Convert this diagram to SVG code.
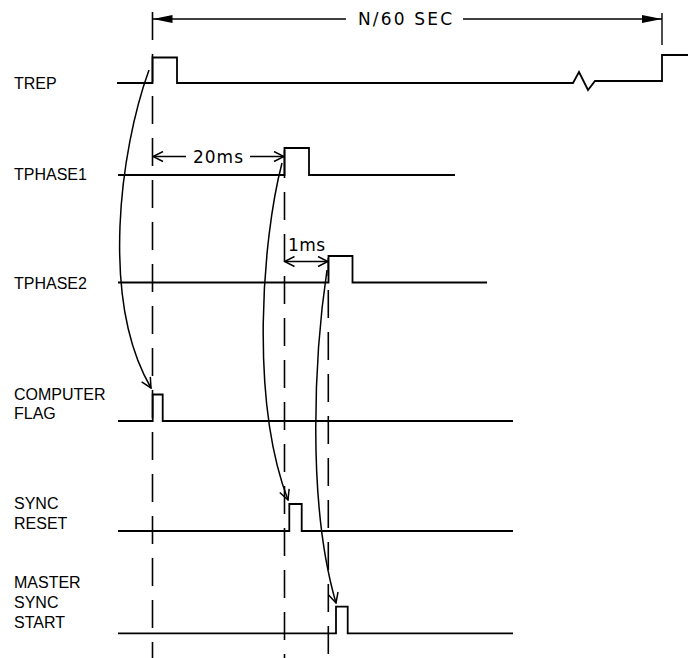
<svg xmlns="http://www.w3.org/2000/svg" width="688" height="658" viewBox="0 0 688 658">
<style>
.sig{fill:none;stroke:#000;stroke-width:1.8;stroke-linejoin:miter}
.dash{fill:none;stroke:#000;stroke-width:1.6;stroke-dasharray:28 14}
.cur{fill:none;stroke:#000;stroke-width:1.5}
.dim{fill:none;stroke:#000;stroke-width:1.4}
.lbl{font-family:"Liberation Sans",Arial,sans-serif;font-size:16px;fill:#000}
.dl{font-family:"DejaVu Sans","Liberation Sans",sans-serif;font-size:17px;fill:#000}
</style>
<defs>
<marker id="open" viewBox="0 0 12 12" refX="11" refY="6" markerWidth="12" markerHeight="12" markerUnits="userSpaceOnUse" orient="auto">
<path d="M1,1 L11,6 L1,11" fill="none" stroke="#000" stroke-width="1.5"/>
</marker>
<marker id="openS" viewBox="0 0 12 12" refX="11" refY="6" markerWidth="12" markerHeight="12" markerUnits="userSpaceOnUse" orient="auto-start-reverse">
<path d="M1,1 L11,6 L1,11" fill="none" stroke="#000" stroke-width="1.5"/>
</marker>
<marker id="solid" viewBox="0 0 20 10" refX="20" refY="5" markerWidth="20" markerHeight="10" markerUnits="userSpaceOnUse" orient="auto-start-reverse">
<path d="M0,1 L20,5 L0,9 Z" fill="#000"/>
</marker>
</defs>

<g id="labels">
<text class="lbl" x="14" y="89">TREP</text>
<text class="lbl" x="14" y="180">TPHASE1</text>
<text class="lbl" x="14" y="289">TPHASE2</text>
<text class="lbl" x="14" y="400">COMPUTER</text>
<text class="lbl" x="14" y="419">FLAG</text>
<text class="lbl" x="14" y="509">SYNC</text>
<text class="lbl" x="14" y="529">RESET</text>
<text class="lbl" x="14" y="588">MASTER</text>
<text class="lbl" x="14" y="608">SYNC</text>
<text class="lbl" x="14" y="628">START</text>
</g>

<g id="trep">
<path class="sig" d="M117,83 H152.5 V57.5 H177 V83 H573 L579,72 L588,90 L595,81 H662 V55 H688"/>
</g>
<g id="tphase1">
<path class="sig" d="M118,175 H284.5 V148 H309 V175 H455"/>
</g>
<g id="tphase2">
<path class="sig" d="M118,282.5 H328.5 V256 H352.5 V282.5 H487"/>
</g>
<g id="computer-flag">
<path class="sig" d="M118,421 H152.7 V394.5 H162.7 V421 H513"/>
</g>
<g id="sync-reset">
<path class="sig" d="M118,531 H289.3 V504 H301.7 V531 H513"/>
</g>
<g id="master-sync-start">
<path class="sig" d="M118,633.3 H336 V606.7 H347.7 V633.3 H513"/>
</g>

<g id="period">
<line class="dim" x1="662" y1="13" x2="662" y2="45"/>
<line class="dim" x1="152.5" y1="19" x2="346" y2="19" marker-start="url(#solid)"/>
<line class="dim" x1="463" y1="19" x2="662" y2="19" marker-end="url(#solid)"/>
<text class="dl" x="358" y="25" textLength="94" lengthAdjust="spacing">N/60 SEC</text>
</g>

<g id="dim-20ms">
<line class="dim" x1="153" y1="156.5" x2="186" y2="156.5" marker-start="url(#openS)"/>
<line class="dim" x1="250" y1="156.5" x2="284" y2="156.5" marker-end="url(#open)"/>
<text class="dl" x="193" y="163" textLength="50" lengthAdjust="spacing">20ms</text>
</g>

<g id="dim-1ms">
<line class="dim" x1="284.5" y1="261.5" x2="328" y2="261.5" marker-start="url(#openS)" marker-end="url(#open)"/>
<text class="dl" x="288" y="251" font-size="15" textLength="37" lengthAdjust="spacing">1ms</text>
</g>

<g id="connectors">
<line class="dash" x1="152.5" y1="12" x2="152.5" y2="658"/>
<line class="dash" x1="284.5" y1="150" x2="284.5" y2="658"/>
<line class="dash" x1="328.3" y1="258" x2="328.3" y2="658" stroke-dashoffset="10"/>
<path class="cur" d="M149,70 C120,150 100,300 151,388" marker-end="url(#open)"/>
<path class="cur" d="M282,163 C262,240 250,400 288,500" marker-end="url(#open)"/>
<path class="cur" d="M327,270 C315,350 306,500 336,603" marker-end="url(#open)"/>
</g>
</svg>
